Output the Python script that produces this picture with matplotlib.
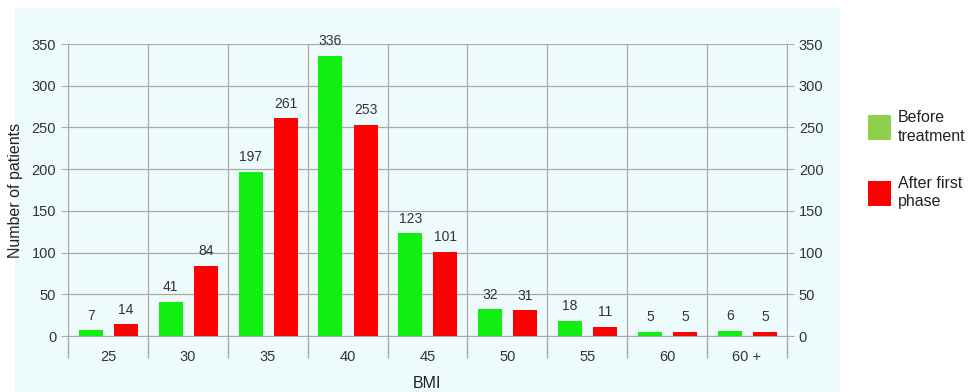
import matplotlib
matplotlib.use("Agg")
import matplotlib.pyplot as plt
import numpy as np
from matplotlib.patches import Patch, Rectangle

# ── Data ─────────────────────────────────────────────────────────────────────
bmi_labels = ["25", "30", "35", "40", "45", "50", "55", "60", "60 +"]
before_treatment = [7, 41, 197, 336, 123, 32, 18, 5, 6]
after_first_phase = [14, 84, 261, 253, 101, 31, 11, 5, 5]

GREEN = "#11ee11"
GREEN_LEG = "#8fd14f"
RED = "#ff0000"
GRID = "#a9a9a9"
TXT = "#333333"

plt.rcParams.update({
    "font.family": ["Liberation Sans", "DejaVu Sans"],
    "font.size": 10,
})

fig = plt.figure(figsize=(9.7, 3.92), dpi=100)
fig.patch.set_facecolor("white")

# light cyan panel behind the chart
fig.patches.append(Rectangle((15 / 970, 0), 825 / 970, 384 / 392,
                             transform=fig.transFigure, facecolor="#eefbfc",
                             edgecolor="none", zorder=-5))

ax = fig.add_axes([68 / 970, 56 / 392, 719 / 970, 292 / 392])
ax.set_facecolor("none")

x = np.arange(len(bmi_labels))
w = 0.3
b1 = ax.bar(x - 0.215, before_treatment, w, color=GREEN, zorder=3)
b2 = ax.bar(x + 0.225, after_first_phase, w, color=RED, zorder=3)

for bars, vals in ((b1, before_treatment), (b2, after_first_phase)):
    for r, v in zip(bars, vals):
        ax.text(r.get_x() + r.get_width() / 2, v + 9, str(v),
                ha="center", va="bottom", fontsize=10, color=TXT)

ax.set_xlim(-0.5, len(bmi_labels) - 0.5)
ax.set_ylim(0, 350)
ax.set_yticks(np.arange(0, 351, 50))
ax.set_xticks(x)
ax.set_xticklabels(bmi_labels)
ax.set_xticks(np.arange(-0.5, len(bmi_labels)), minor=True)

ax.tick_params(axis="x", which="major", length=0, pad=10, labelsize=10.5, labelcolor=TXT)
ax.tick_params(axis="x", which="minor", length=16, width=1, color=GRID)
ax.tick_params(axis="y", length=5, color=GRID, labelsize=10.5, labelcolor=TXT,
               left=True, right=True, labelleft=True, labelright=True)

ax.grid(True, axis="y", color=GRID, linewidth=0.9, zorder=1)
ax.grid(True, axis="x", which="minor", color=GRID, linewidth=0.9, zorder=1)
ax.set_axisbelow(True)

for s in ("left", "right", "bottom"):
    ax.spines[s].set_color(GRID)
ax.spines["top"].set_visible(False)

ax.set_ylabel("Number of patients", fontsize=11.5, color="#222222", labelpad=6)
ax.set_xlabel("BMI", fontsize=11.5, color="#222222", labelpad=9)

handles = [Patch(facecolor=GREEN_LEG), Patch(facecolor=RED)]
leg = fig.legend(handles, ["Before\ntreatment", "After first\nphase"],
                 loc="upper left", bbox_to_anchor=(868 / 970, 1 - 110 / 392),
                 frameon=False, borderpad=0, borderaxespad=0,
                 handlelength=1.45, handleheight=2.0, handletextpad=0.4,
                 labelspacing=2.0, fontsize=11.5)
for t in leg.get_texts():
    t.set_linespacing(1.3)
    t.set_color("#222222")

fig.savefig("out.png", dpi=100, facecolor="white")
